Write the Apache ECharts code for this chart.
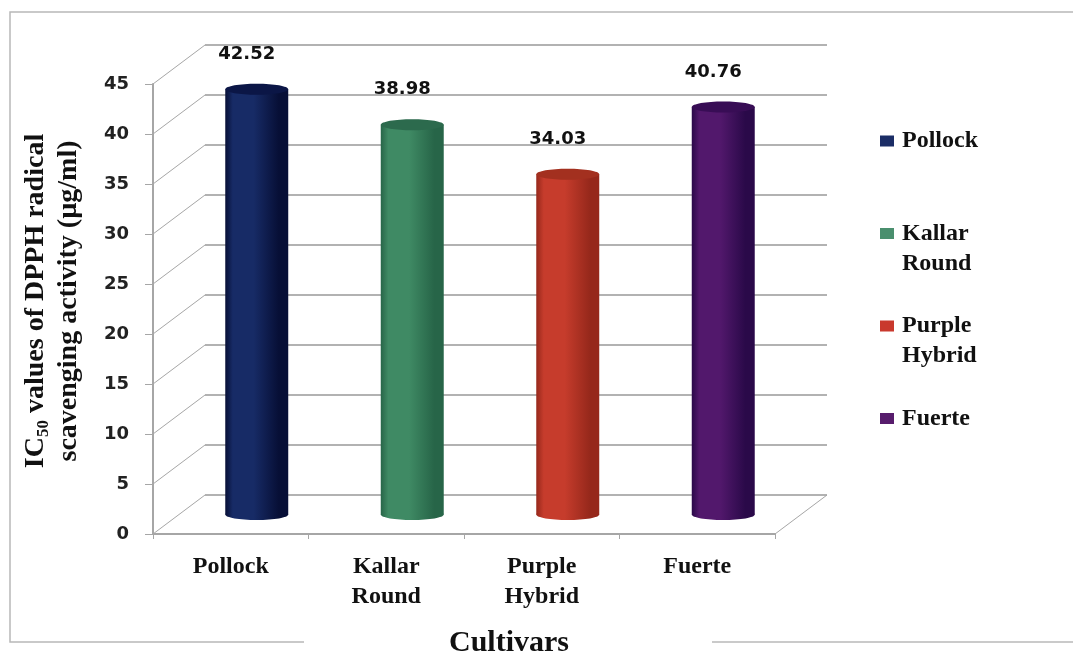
<!DOCTYPE html>
<html>
<head>
<meta charset="utf-8">
<script src="https://cdn.jsdelivr.net/npm/echarts@6/dist/echarts.min.js"></script>
<style>
  html, body { margin: 0; padding: 0; background: #ffffff; }
  #chart { width: 1073px; height: 658px; }
</style>
</head>
<body>
<div id="chart"></div>
<script>
// IC50 of DPPH radical scavenging activity per avocado cultivar
const cultivars = ['Pollock', 'Kallar Round', 'Purple Hybrid', 'Fuerte'];
const ic50Values = [42.52, 38.98, 34.03, 40.76];
const yTicks = [0, 5, 10, 15, 20, 25, 30, 35, 40, 45];

const Y_MIN = 0, Y_MAX = 45, Y_STEP = 5;

// colours: legend swatch plus cylinder shading (edge / highlight / cap)
const swatchColors = ['#1b2d66', '#4a8f6e', '#c9392d', '#571c6c'];
const cylinderShades = [
  { edge: '#070f36', mid: '#172b66', cap: '#0b1646' },
  { edge: '#276548', mid: '#3f8a64', cap: '#2c6a4d' },
  { edge: '#96281b', mid: '#c63c2c', cap: '#a3301f' },
  { edge: '#2a0949', mid: '#52186c', cap: '#380d55' }
];

// front plane of the plot box and the depth offset of the back wall
const PLOT = { left: 153, top: 84, width: 622, height: 450 };
const DEPTH = { dx: 52, dy: -39 };

const SERIF = '"Liberation Serif", "Times New Roman", serif';
const SANS = '"DejaVu Sans", sans-serif';
const INK = '#111111';
const WALL = '#a6a6a6';

// legend swatches: a square; two-line entries get a taller, transparent-bottomed
// icon box so the square sits level with the first line of text
const ICON_ONE_LINE = 'rect';
const ICON_TWO_LINE = 'path://M0,0L14,0L14,11L0,11Z M0,41L0.01,41L0,40.99Z';

function gridAt(fx) {
  return {
    left: PLOT.left + DEPTH.dx * fx,
    top: PLOT.top + DEPTH.dy * fx,
    width: PLOT.width,
    height: PLOT.height,
    containLabel: false,
    outerBoundsMode: 'none'
  };
}

// side-wall and floor edges running from the front plane to the back wall
function renderDepthEdges(params, api) {
  const v = api.value(1);
  const p = api.coord([0, v]);
  const band = api.size([1, 0])[0];
  const x0 = p[0] - band / 2;
  const stroke = { stroke: WALL, lineWidth: 1 };
  const children = [{
    type: 'line',
    shape: { x1: x0, y1: p[1], x2: x0 + DEPTH.dx, y2: p[1] + DEPTH.dy },
    style: stroke
  }];
  if (v === Y_MIN) {
    const x1 = x0 + band * cultivars.length;
    children.push({
      type: 'line',
      shape: { x1: x1, y1: p[1], x2: x1 + DEPTH.dx, y2: p[1] + DEPTH.dy },
      style: stroke
    });
  }
  return { type: 'group', children: children };
}

// one cylinder with its value label
function makeCylinderRenderer(idx) {
  const shade = cylinderShades[idx];
  return function (params, api) {
    const cat = api.value(0);
    const val = api.value(1);
    const top = api.coord([cat, val]);
    const base = api.coord([cat, Y_MIN]);
    const w = api.size([1, 0])[0] * 0.405;
    const rx = w / 2;
    const ry = 5.5;
    const body = new echarts.graphic.LinearGradient(0, 0, 1, 0, [
      { offset: 0, color: shade.edge },
      { offset: 0.12, color: shade.mid },
      { offset: 0.45, color: shade.mid },
      { offset: 0.85, color: shade.edge },
      { offset: 1, color: shade.edge }
    ]);
    return {
      type: 'group',
      children: [
        {
          type: 'ellipse',
          shape: { cx: top[0], cy: base[1], rx: rx, ry: ry },
          style: { fill: body }
        },
        {
          type: 'rect',
          shape: { x: top[0] - rx, y: top[1], width: w, height: base[1] - top[1] },
          style: { fill: body }
        },
        {
          type: 'ellipse',
          shape: { cx: top[0], cy: top[1], rx: rx, ry: ry },
          style: { fill: shade.cap }
        },
        {
          type: 'text',
          x: top[0] - 10,
          y: top[1] - 35,
          style: {
            text: val.toFixed(2),
            fill: INK,
            font: 'bold 18px ' + SANS,
            align: 'center',
            verticalAlign: 'middle'
          }
        }
      ]
    };
  };
}

const hiddenCategory = (g) => ({
  type: 'category', gridIndex: g, data: cultivars, show: false
});

const option = {
  backgroundColor: '#ffffff',
  animation: false,
  grid: [gridAt(0), gridAt(1), gridAt(0.5)],
  xAxis: [
    {
      type: 'category',
      gridIndex: 0,
      data: cultivars,
      axisLine: { lineStyle: { color: WALL, width: 2 } },
      axisTick: { show: true, length: 5, lineStyle: { color: WALL } },
      axisLabel: {
        interval: 0,
        margin: 18,
        color: INK,
        fontFamily: SERIF,
        fontWeight: 'bold',
        fontSize: 24,
        lineHeight: 30,
        formatter: (s) => s.replace(' ', '\n')
      },
      name: 'Cultivars',
      nameLocation: 'middle',
      nameGap: 94,
      nameTextStyle: {
        color: INK,
        fontFamily: SERIF,
        fontWeight: 'bold',
        fontSize: 30,
        padding: [0, 0, 0, 90]
      }
    },
    hiddenCategory(1),
    hiddenCategory(2)
  ],
  yAxis: [
    {
      type: 'value',
      gridIndex: 0,
      min: Y_MIN, max: Y_MAX, interval: Y_STEP,
      axisLine: { show: true, lineStyle: { color: WALL, width: 2 } },
      axisTick: { show: true, length: 8, lineStyle: { color: WALL } },
      splitLine: { show: false },
      axisLabel: {
        margin: 24,
        color: '#222222',
        fontFamily: SANS,
        fontWeight: 'bold',
        fontSize: 18
      },
      name: '{a|IC}{s|50}{a| values of DPPH radical}\n{a|scavenging activity (µg/ml)}',
      nameLocation: 'middle',
      nameGap: 68,
      nameTextStyle: {
        color: INK,
        fontFamily: SERIF,
        fontWeight: 'bold',
        fontSize: 28,
        lineHeight: 33,
        padding: [0, 0, 0, 16],
        rich: {
          a: { fontFamily: SERIF, fontWeight: 'bold', fontSize: 28, lineHeight: 33, color: INK },
          s: { fontFamily: SERIF, fontWeight: 'bold', fontSize: 17, lineHeight: 21, color: INK, verticalAlign: 'bottom' }
        }
      }
    },
    {
      type: 'value',
      gridIndex: 1,
      min: Y_MIN, max: Y_MAX, interval: Y_STEP,
      axisLine: { show: false },
      axisTick: { show: false },
      axisLabel: { show: false },
      splitLine: { show: true, lineStyle: { color: '#999999', width: 1.5 } }
    },
    {
      type: 'value',
      gridIndex: 2,
      min: Y_MIN, max: Y_MAX, interval: Y_STEP,
      show: false
    }
  ],
  legend: cultivars.map((name, i) => {
    const twoLine = name.indexOf(' ') >= 0;
    return {
      data: [name],
      orient: 'vertical',
      left: 880,
      top: 126 + i * 92.5,
      padding: 0,
      icon: twoLine ? ICON_TWO_LINE : ICON_ONE_LINE,
      itemWidth: 14,
      itemHeight: twoLine ? 41 : 11,
      selectedMode: false,
      formatter: (n) => n.replace(' ', '\n'),
      textStyle: {
        color: INK,
        fontFamily: SERIF,
        fontWeight: 'bold',
        fontSize: 24,
        lineHeight: 30,
        padding: [0, 0, 0, 3]
      }
    };
  }),
  graphic: {
    elements: [
      {
        type: 'polyline',
        silent: true,
        shape: { points: [[304, 642], [10, 642], [10, 12], [1073, 12]] },
        style: { stroke: '#b8b8b8', lineWidth: 1.5, fill: null }
      },
      {
        type: 'line',
        silent: true,
        shape: { x1: 712, y1: 642, x2: 1073, y2: 642 },
        style: { stroke: '#b8b8b8', lineWidth: 1.5 }
      }
    ]
  },
  series: [
    {
      type: 'custom',
      name: 'walls',
      xAxisIndex: 0,
      yAxisIndex: 0,
      silent: true,
      z: 1,
      data: yTicks.map((v) => [0, v]),
      renderItem: renderDepthEdges
    }
  ].concat(cultivars.map((name, i) => ({
    type: 'custom',
    name: name,
    xAxisIndex: 2,
    yAxisIndex: 2,
    itemStyle: { color: swatchColors[i] },
    data: [[i, ic50Values[i]]],
    renderItem: makeCylinderRenderer(i)
  })))
};

const chart = echarts.init(document.getElementById('chart'), null, { renderer: 'canvas' });
chart.setOption(option);
</script>
</body>
</html>
